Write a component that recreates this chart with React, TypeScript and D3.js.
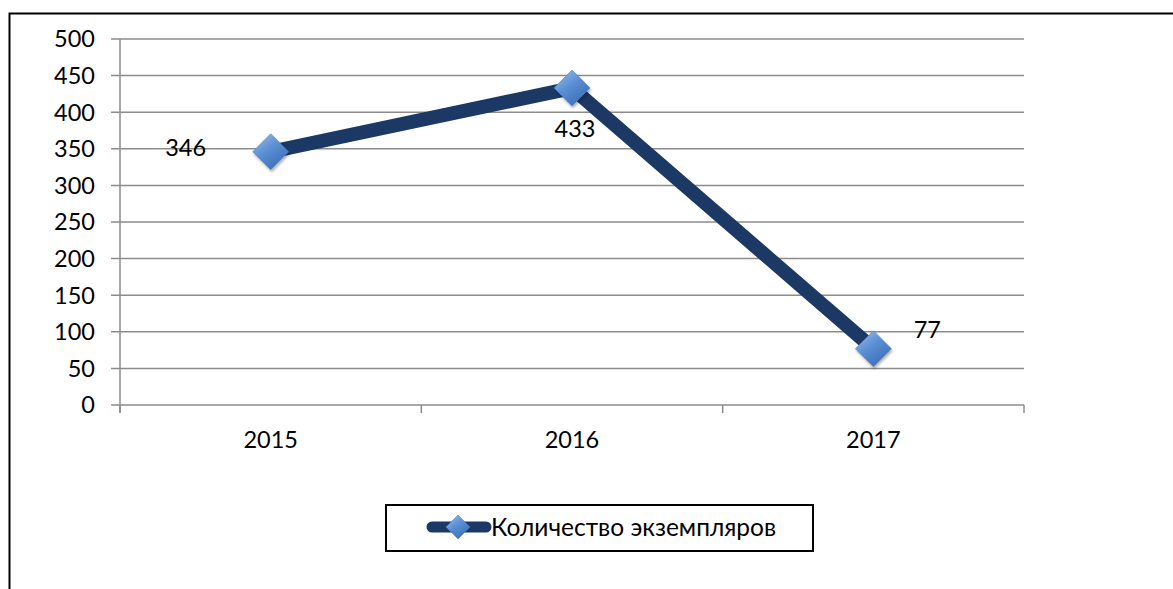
import React from "react";
import * as d3 from "d3";

// chart data
const years = ["2015", "2016", "2017"];
const copies = [346, 433, 77];
const yTicks = [0, 50, 100, 150, 200, 250, 300, 350, 400, 450, 500];
const seriesName = "Количество экземпляров";
// label offsets like in the original (left, below, right-top)
const labelPos = ["left", "below", "right"];

const W = 1173;
const H = 589;
const FONT = "Lato, 'Open Sans', sans-serif";

const App = () => {
    // plot area
    const left = 120;
    const right = 1024;
    const top = 39;
    const bottom = 405;

    const xScale = d3.scaleBand()
        .domain(years)
        .range([left, right])
        .paddingInner(0)
        .paddingOuter(0);

    const yScale = d3.scaleLinear()
        .domain([0, 500])
        .range([bottom, top]);

    const cx = (d) => xScale(d) + xScale.bandwidth() / 2;

    const lineGen = d3.line()
        .x((d, i) => cx(years[i]))
        .y((d) => yScale(d));

    const diamond = (x, y, r) => `M${x},${y - r}L${x + r},${y}L${x},${y + r}L${x - r},${y}Z`;

    const boundaries = [...years.map((y) => xScale(y)), right];

    return (
        <svg width={W} height={H} style={{display: "block", position: "absolute", left: 0, top: 0}}>
            <defs>
                <linearGradient id="mk" x1="0" y1="0" x2="0.7" y2="1">
                    <stop offset="0" stopColor="#9cc1ec" />
                    <stop offset="0.5" stopColor="#5b8fd3" />
                    <stop offset="1" stopColor="#3a6db5" />
                </linearGradient>
                <filter id="sh" x="-50%" y="-50%" width="200%" height="200%">
                    <feDropShadow dx="1" dy="2" stdDeviation="1.5" floodColor="#000" floodOpacity="0.35" />
                </filter>
            </defs>
            <rect x={0} y={0} width={W} height={H} fill="#fff" />
            {/* outer frame */}
            <rect x={9.5} y={13.5} width={W + 20} height={H + 20} fill="none" stroke="#000" strokeWidth={2} />

            {/* grid lines */}
            {yTicks.map((t) => (
                <line key={t} x1={left - 9} x2={right} y1={yScale(t)} y2={yScale(t)} stroke="#8c8c8c" strokeWidth={1.5} />
            ))}
            {/* y axis */}
            <line x1={left} x2={left} y1={top} y2={bottom + 8} stroke="#8c8c8c" strokeWidth={1.5} />
            {/* category ticks */}
            {boundaries.map((b, i) => (
                <line key={i} x1={b} x2={b} y1={bottom} y2={bottom + 8} stroke="#8c8c8c" strokeWidth={1.5} />
            ))}

            {/* y labels */}
            {yTicks.map((t) => (
                <text key={t} x={95} y={yScale(t)} dy="0.36em" textAnchor="end" fontFamily={FONT} fontSize={23.5} fill="#000">{t}</text>
            ))}
            {/* x labels */}
            {years.map((y) => (
                <text key={y} x={cx(y)} y={440} dy="0.36em" textAnchor="middle" fontFamily={FONT} fontSize={23.5} fill="#000">{y}</text>
            ))}

            {/* series line */}
            <path d={lineGen(copies)} fill="none" stroke="#1c3966" strokeWidth={14} strokeLinejoin="round" />

            {/* markers */}
            {copies.map((v, i) => (
                <path key={i} d={diamond(cx(years[i]), yScale(v), 18)} fill="url(#mk)" stroke="#4a7cc0" strokeWidth={0.5} filter="url(#sh)" />
            ))}

            {/* data labels */}
            {copies.map((v, i) => {
                const x = cx(years[i]);
                const y = yScale(v);
                let lx = x, ly = y, anchor = "middle";
                if (labelPos[i] === "left") { lx = x - 85; ly = y - 4; }
                if (labelPos[i] === "below") { lx = x + 3; ly = y + 40; }
                if (labelPos[i] === "right") { lx = x + 54; ly = y - 19; }
                return (
                    <text key={i} x={lx} y={ly} dy="0.36em" textAnchor={anchor} fontFamily={FONT} fontSize={23.5} fill="#000">{v}</text>
                );
            })}

            {/* legend */}
            <rect x={386} y={505} width={427} height={46} fill="#fff" stroke="#000" strokeWidth={2} />
            <line x1={432} x2={486} y1={527} y2={527} stroke="#1c3966" strokeWidth={11} strokeLinecap="round" />
            <path d={diamond(458, 527, 12)} fill="url(#mk)" stroke="#4a7cc0" strokeWidth={0.5} />
            <text x={491} y={527} dy="0.36em" fontFamily={FONT} fontSize={24.5} fill="#000">{seriesName}</text>
        </svg>
    );
};

export default App;
